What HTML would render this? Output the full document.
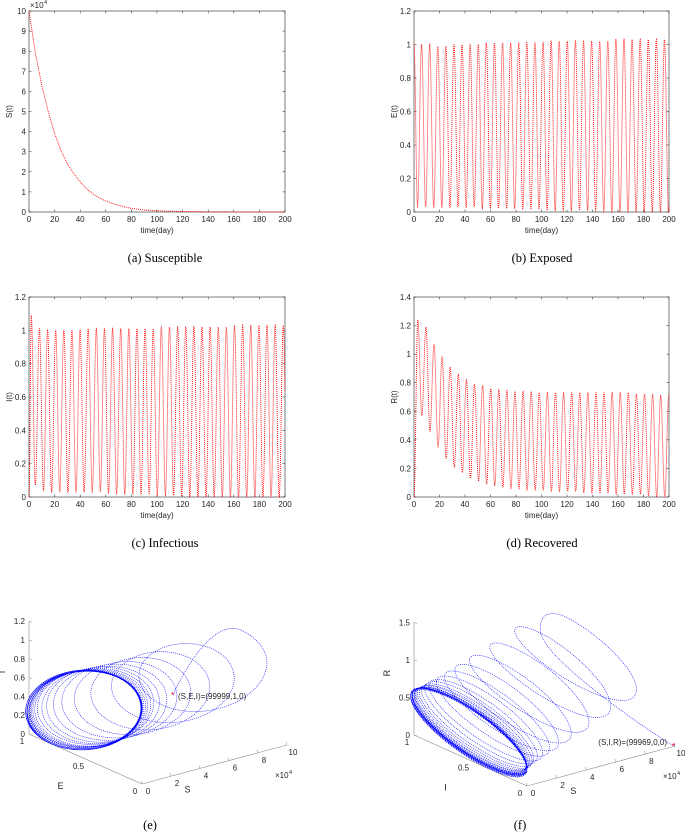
<!DOCTYPE html>
<html><head><meta charset="utf-8"><style>
html,body{margin:0;padding:0;background:#fff}
svg{display:block}
text{font-family:"Liberation Sans",sans-serif;font-size:8px;fill:#262626}
.cap{font-family:"Liberation Serif",serif;font-size:12.5px;fill:#000}
</style></head><body>
<svg id="fig" width="685" height="838" viewBox="0 0 685 838"></svg>
<script>
// ---- data ----
const sTimes = [0,5,10,15,20,25,30,35,40,45,50,55,60,65,70,75,80,85,90,95,100,110,120,130,140,150,160,170,180,190,200];
const sValues = [10,7.9,6.3,5.0,3.9,3.05,2.4,1.9,1.5,1.15,0.9,0.7,0.55,0.43,0.33,0.25,0.18,0.14,0.10,0.08,0.06,0.04,0.025,0.015,0.01,0.007,0.005,0.003,0.002,0.001,0];
const period = 6.35;
const ePeaks = [1.0,1.0,1.0,0.99,0.99,1.0,1.0,1.0,1.0,1.01,1.01,1.01,1.01,1.01,1.01,1.01,1.01,1.02,1.02,1.02,1.02,1.02,1.02,1.02,1.02,1.03,1.03,1.03,1.03,1.03,1.03,1.03,1.03];
const eTroughs = [0.03,0.03,0.03,0.03,0.03,0.03,0.03,0.03,0.02,0.02,0.02,0.02,0.02,0.02,0.02,0.02,0.01,0.01,0.01,0.01,0.01,0.01,0.01,0,0,0,0,0,0,0,0,0,0];
const iPeaks = [1.09,1.01,1.0,1.0,1.0,1.0,1.0,1.01,1.01,1.01,1.01,1.01,1.01,1.01,1.01,1.01,1.02,1.02,1.02,1.02,1.02,1.02,1.02,1.02,1.02,1.03,1.03,1.03,1.03,1.03,1.03,1.03];
const iTroughs = [0.07,0.04,0.03,0.03,0.03,0.03,0.03,0.03,0.03,0.02,0.02,0.02,0.02,0.02,0.02,0.01,0.01,0.01,0.01,0,0,0,0,0,0,0,0,0,0,0,0,0];
const rPeaks = [1.24,1.19,1.07,0.98,0.91,0.86,0.82,0.79,0.78,0.76,0.75,0.75,0.74,0.74,0.74,0.73,0.73,0.73,0.73,0.73,0.73,0.73,0.73,0.73,0.73,0.73,0.73,0.72,0.72,0.72,0.71,0.71];
const rTroughs = [0.57,0.46,0.35,0.27,0.21,0.17,0.13,0.11,0.09,0.08,0.07,0.06,0.06,0.05,0.05,0.05,0.04,0.04,0.04,0.04,0.03,0.03,0.03,0.03,0.02,0.02,0.02,0.02,0.01,0,0,0];
const xTicks = [0,20,40,60,80,100,120,140,160,180,200];
const sTicks = [0,1,2,3,4,5,6,7,8,9,10];
const ticks12 = [0,0.2,0.4,0.6,0.8,1,1.2];
const ticks14 = [0,0.2,0.4,0.6,0.8,1,1.2,1.4];

const NS='http://www.w3.org/2000/svg';
const svg=document.getElementById('fig');
function mk(tag,attrs,parent,txt){const e=document.createElementNS(NS,tag);for(const k in attrs)e.setAttribute(k,attrs[k]);if(txt!==undefined)e.textContent=txt;(parent||svg).appendChild(e);return e;}

function sAt(t){for(let i=0;i<sTimes.length-1;i++){if(t<=sTimes[i+1]){const f=(t-sTimes[i])/(sTimes[i+1]-sTimes[i]);return sValues[i]+f*(sValues[i+1]-sValues[i]);}}return sValues[sValues.length-1];}
function oscAt(t,v0,t0,P,Tr){
  const knots=[[0,v0]];
  for(let k=0;k<P.length;k++){
    const tp=t0+k*period, tt=t0+(k+0.5)*period;
    if(tp>0)knots.push([tp,P[k]]);
    if(tt>0)knots.push([tt,Tr[k]]);
  }
  for(let i=0;i<knots.length-1;i++){if(t<=knots[i+1][0]){const a=knots[i],b=knots[i+1];const f=(t-a[0])/(b[0]-a[0]);const g=(1-Math.cos(Math.PI*f))/2;return a[1]+g*(b[1]-a[1]);}}
  return knots[knots.length-1][1];
}
const eAt=t=>oscAt(t,1.0,-0.4,ePeaks,eTroughs);
const iAt=t=>oscAt(t,0,1.8,iPeaks,iTroughs);
const rAt=t=>oscAt(t,0,3,rPeaks,rTroughs);
const fmt=v=>(Math.round(v*10)/10).toString();

function panel(name,L,R,T,B,ymax,yticks,ylabel,fn,caption,capX,expo){
  const g=mk('g',{},svg);
  
  
  const xs=t=>L+(R-L)*t/200, ys=v=>B-(B-T)*v/ymax;
  mk('rect',{x:L,y:T,width:R-L,height:B-T,fill:'#fff',stroke:'#262626','stroke-width':0.6},g);
  xTicks.forEach(t=>{const x=xs(t);mk('line',{x1:x,y1:B,x2:x,y2:B-2.5,stroke:'#262626','stroke-width':0.5},g);mk('line',{x1:x,y1:T,x2:x,y2:T+2.5,stroke:'#262626','stroke-width':0.5},g);
    const tl=mk('text',{x:x,y:B+10,'text-anchor':'middle'},g,t);});
  yticks.forEach(v=>{const y=ys(v);mk('line',{x1:L,y1:y,x2:L+2.5,y2:y,stroke:'#262626','stroke-width':0.5},g);mk('line',{x1:R,y1:y,x2:R-2.5,y2:y,stroke:'#262626','stroke-width':0.5},g);
    const tl=mk('text',{x:L-3,y:y+3,'text-anchor':'end'},g,fmt(v));});
  let d='';for(let t=0;t<=200;t+=0.1){d+=(t===0?'M':'L')+xs(t).toFixed(2)+','+ys(fn(t)).toFixed(2);}
  const p=mk('path',{d:d,fill:'none',stroke:'#ff0000','stroke-width':0.9,'stroke-dasharray':'1 1'},g);
  
  const xl=mk('text',{x:(L+R)/2,y:B+21,'text-anchor':'middle'},g,'time(day)');
  const yl=mk('text',{x:0,y:0,'text-anchor':'middle',transform:`translate(${L-17},${(T+B)/2}) rotate(-90)`},g,ylabel);
  if(expo){const ex=mk('text',{x:L+1,y:T-3},g,'×10');mk('text',{x:L+15,y:T-7,style:'font-size:5.5px'},g,'4');}
  const c=mk('text',{x:capX,y:B+50,'text-anchor':'middle',class:'cap'},g,caption);
}
panel('panel-susceptible',29,285,11,212,10,sTicks,'S(t)',sAt,'(a)  Susceptible',165,true);
panel('panel-exposed',414,669,11,212,1.2,ticks12,'E(t)',eAt,'(b)  Exposed',542,false);
panel('panel-infectious',29,285,297,497,1.2,ticks12,'I(t)',iAt,'(c)  Infectious',165,false);
panel('panel-recovered',414,669,297,497,1.4,ticks14,'R(t)',rAt,'(d)  Recovered',542,false);

// ---- 3D panels ----
const sAxTicks=[0,2,4,6,8,10];
function panel3d(name,ox,oy,sdx,sdy,bdx,bdy,vscale,vticks,vlabel,blabel,fnB,fnV,ptLabel,caption,capX){
  const g=mk('g',{},svg);
  
  
  const P=(s,b,v)=>[ox+sdx*s/10+bdx*b, oy+sdy*s/10+bdy*b-vscale*v];
  const ax='#888';
  const c0=P(0,1,0), c1=P(0,0,0), c2=P(10,0,0), top=P(0,1,vticks[vticks.length-1]);
  mk('line',{x1:c0[0],y1:c0[1],x2:top[0],y2:top[1],stroke:ax,'stroke-width':0.6},g);
  mk('line',{x1:c0[0],y1:c0[1],x2:c1[0],y2:c1[1],stroke:ax,'stroke-width':0.6},g);
  mk('line',{x1:c1[0],y1:c1[1],x2:c2[0],y2:c2[1],stroke:ax,'stroke-width':0.6},g);
  vticks.forEach(v=>{const p=P(0,1,v);mk('line',{x1:p[0],y1:p[1],x2:p[0]+3,y2:p[1]+1,stroke:ax,'stroke-width':0.5},g);const t=mk('text',{x:p[0]-4,y:p[1]+3,'text-anchor':'end'},g,fmt(v));});
  [1,0.5,0].forEach(b=>{const p=P(0,b,0);const t=mk('text',{x:p[0]-7,y:p[1]+10,'text-anchor':'middle'},g,fmt(b));});
  sAxTicks.forEach(s=>{const p=P(s,0,0);mk('line',{x1:p[0],y1:p[1],x2:p[0]-1,y2:p[1]-3,stroke:ax,'stroke-width':0.5},g);const t=mk('text',{x:p[0]+6,y:p[1]+10,'text-anchor':'middle'},g,s);});
  const ex=P(10,0,0);const et=mk('text',{x:ex[0]-12,y:ex[1]+33},g,'×10');mk('text',{x:ex[0]+2,y:ex[1]+29,style:'font-size:5.5px'},g,'4');
  const bp=P(0,0.5,0);const bl=mk('text',{x:bp[0]-25,y:bp[1]+30,'text-anchor':'middle',style:'font-size:9px'},g,blabel);
  const sp=P(3,0,0);const sl=mk('text',{x:sp[0]+2,y:sp[1]+20,'text-anchor':'middle',style:'font-size:9px'},g,'S');
  const vp=P(0,1,vticks[vticks.length-1]*0.55);const vl=mk('text',{x:0,y:0,'text-anchor':'middle',style:'font-size:9px',transform:`translate(${vp[0]-24},${vp[1]}) rotate(-90)`},g,vlabel);
  let d='';for(let t=0;t<=200;t+=0.05){const p=P(sAt(t),fnB(t),fnV(t));d+=(t===0?'M':'L')+p[0].toFixed(2)+','+p[1].toFixed(2);}
  const tr=mk('path',{d:d,fill:'none',stroke:'#0000ff','stroke-width':0.6,'stroke-dasharray':'1 1'},g);
  const st=P(sAt(0),fnB(0),fnV(0));
  mk('text',{x:st[0]-3,y:st[1]+3,style:'fill:#f00;font-size:8px'},g,'*');
  const lt=mk('text',{x:ptLabel[1],y:ptLabel[2],'text-anchor':ptLabel[3]},g,ptLabel[0]);
  const c=mk('text',{x:capX,y:829,'text-anchor':'middle',class:'cap'},g,caption);
}
panel3d('panel-sei-phase',142,784,145,-39,-113,-50,94,ticks12,'I','E',eAt,iAt,['(S,E,I)=(99999,1,0)',178,699,'start'],'(e)',150);
panel3d('panel-sir-phase',527,786,148,-40,-113,-51,75,[0,0.5,1,1.5],'R','I',iAt,rAt,['(S,I,R)=(99969,0,0)',667,745,'end'],'(f)',520);
</script>
</body></html>
